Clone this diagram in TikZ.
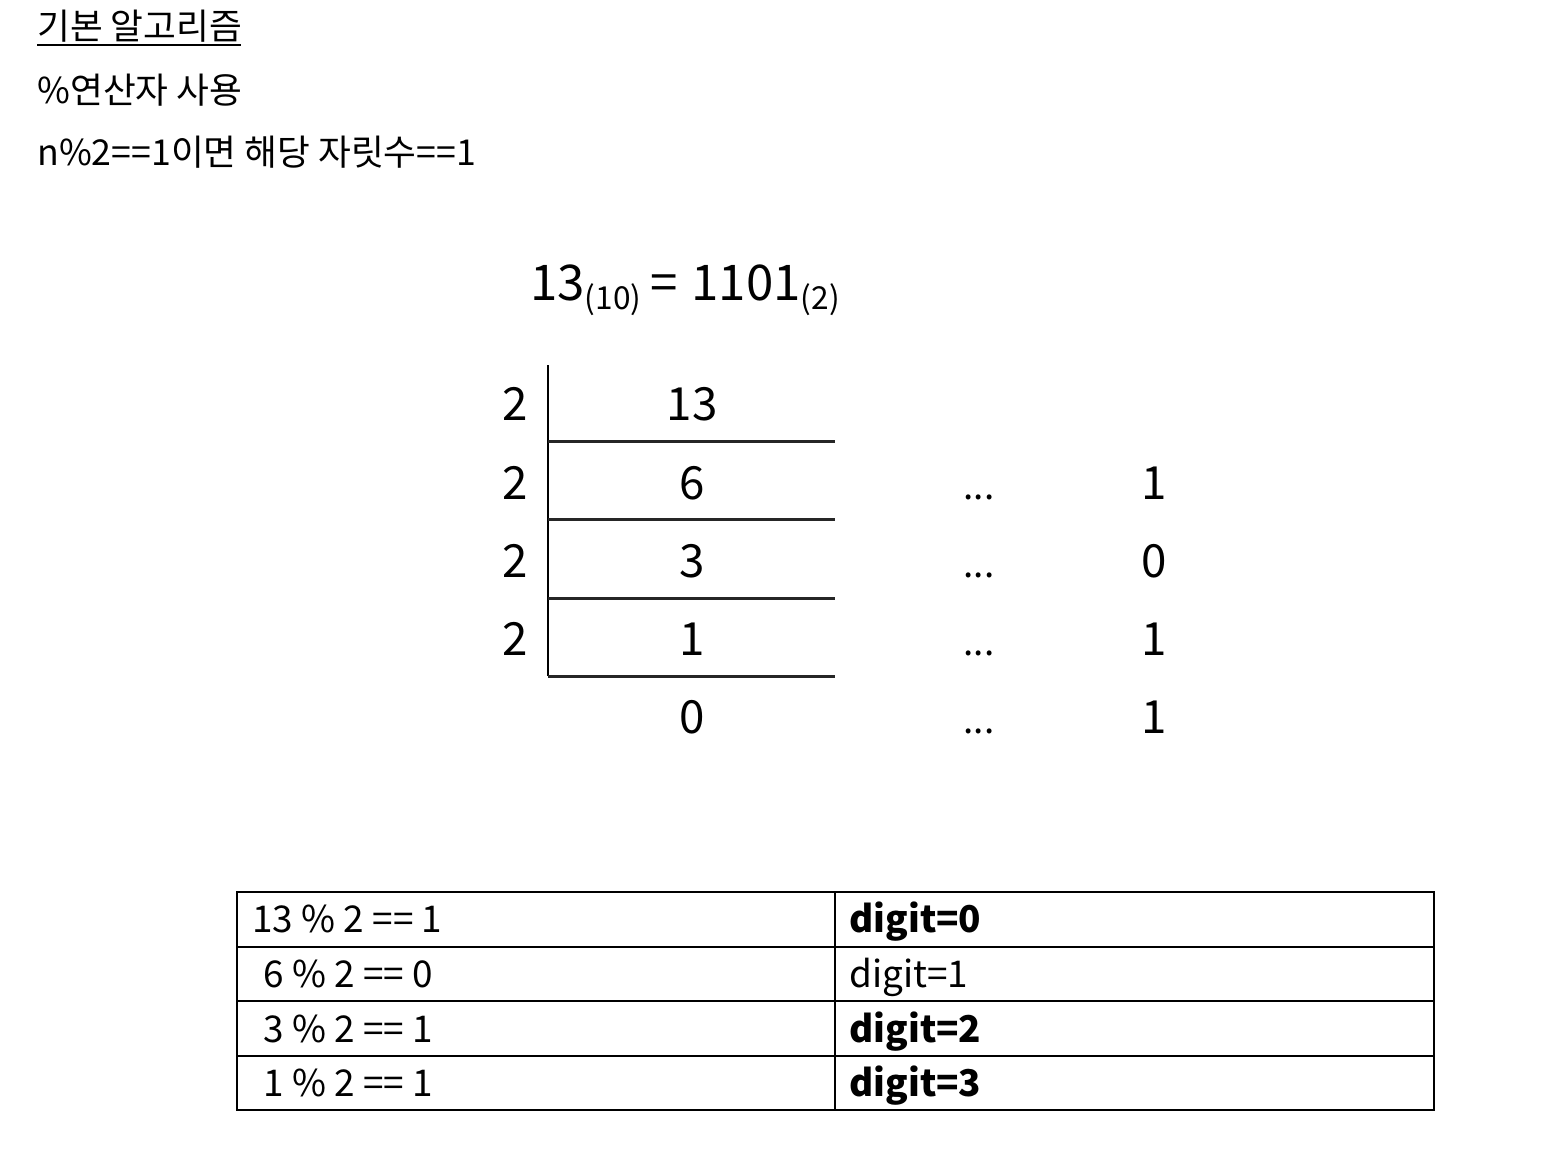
\documentclass[tikz,border=0pt]{standalone}
\usepackage{fontspec}
\setmainfont{Noto Sans CJK KR}
\newcommand{\basesub}[1]{\raisebox{-5.5pt}{\fontsize{18}{20}\selectfont #1}}

\begin{document}
\begin{tikzpicture}[x=0.02cm,y=-0.02cm,
	toptext/.style={anchor=base west,inner sep=0pt,font=\fontsize{20.3}{24}\selectfont},
	divnum/.style={anchor=base,inner sep=0pt,font=\fontsize{26}{30}\selectfont},
	divdots/.style={anchor=base,inner sep=0pt,font=\fontsize{21}{25}\selectfont},
	celltext/.style={anchor=base west,inner sep=0pt,font=\fontsize{21}{25}\selectfont},
	divline/.style={line width=1.7pt,black!85}]
	\useasboundingbox (0,0) rectangle (1562,1170);
	
	% Heading lines
	\node[toptext] (title) at (37,39) {기본 알고리즘};
	\draw[line width=1.1pt] (37,45) -- (241,45);
	\node[toptext] (usage) at (37,103) {\%연산자 사용};
	\node[toptext] (rule) at (37,165) {n\%2==1이면 해당 자릿수==1};
	
	% Result of the conversion
	\node[anchor=base west,inner sep=0pt,font=\fontsize{28}{32}\selectfont] (result) at (530,300) {13\basesub{(10)}\hspace{5pt}=\hspace{8pt}1101\basesub{(2)}};
	
	% Division ladder
	\draw[line width=1.2pt] (548,365) -- (548,676);
	\foreach \y in {441,519,598,676} \draw[divline] (548,\y) -- (835,\y);
	\foreach \i/\y in {1/420,2/499,3/577,4/655} \node[divnum] (div\i) at (515,\y) {2};
	\foreach \i/\q/\y in {1/13/420,2/6/499,3/3/577,4/1/655,5/0/733} \node[divnum] (quot\i) at (692,\y) {\q};
	
	% Remainders
	\foreach \i/\r/\y in {2/1/499,3/0/577,4/1/655,5/1/733} {
		\node[divdots] (dots\i) at (979,\y) {...};
		\node[divnum] (rem\i) at (1154,\y) {\r};
	}
	
	% Table of steps
	\draw[line width=1.3pt] (237,892) rectangle (1434,1110);
	\draw[line width=1pt] (835,892) -- (835,1110);
	\foreach \y in {947,1001,1056} \draw[line width=1pt] (237,\y) -- (1434,\y);
	\foreach \i/\x/\a/\b/\y in {1/252/{13 \% 2 == 1}/{\textbf{digit=0}}/932,
		2/263/{6 \% 2 == 0}/{digit=1}/987,
		3/263/{3 \% 2 == 1}/{\textbf{digit=2}}/1042,
		4/263/{1 \% 2 == 1}/{\textbf{digit=3}}/1096} {
		\node[celltext] (step\i) at (\x,\y) {\a};
		\node[celltext] (digit\i) at (849,\y) {\b};
	}
\end{tikzpicture}
\end{document}
